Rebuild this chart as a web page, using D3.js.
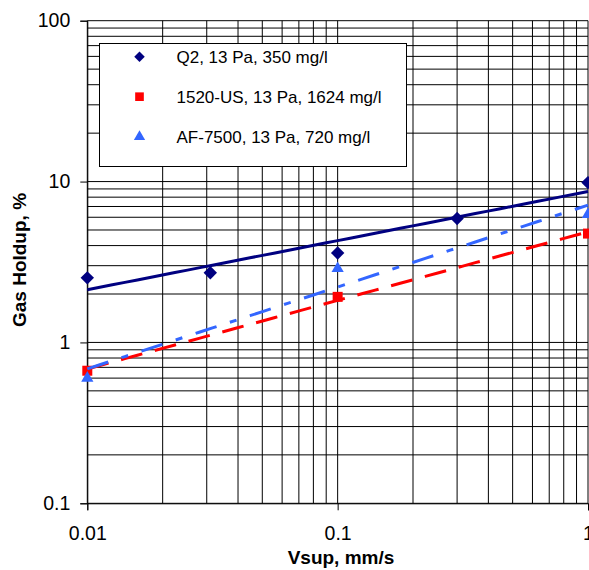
<!DOCTYPE html>
<html>
<head>
<meta charset="utf-8">
<script src="https://cdn.jsdelivr.net/npm/d3@7/dist/d3.min.js"></script>
<style>
  html, body { margin: 0; padding: 0; background: #fff; }
  svg { display: block; font-family: "Liberation Sans", Arial, sans-serif; }
</style>
</head>
<body>
<svg id="chart" width="589" height="570"></svg>
<script>
// ---- Data ----
const seriesNames = ["Q2, 13 Pa, 350 mg/l", "1520-US, 13 Pa, 1624 mg/l", "AF-7500, 13 Pa, 720 mg/l"];
const vsupQ2 = [0.01, 0.031, 0.1, 0.3, 1];
const holdupQ2 = [2.52, 2.71, 3.6, 5.9, 9.85];
const vsup1520 = [0.01, 0.1, 1];
const holdup1520 = [0.667, 1.92, 4.75];
const vsupAF = [0.01, 0.1, 1];
const holdupAF = [0.6, 2.88, 6.25];
const xTickValues = [0.01, 0.1, 1];
const xTickLabels = ["0.01", "0.1", "1"];
const yTickValues = [0.1, 1, 10, 100];
const yTickLabels = ["0.1", "1", "10", "100"];
const xTitle = "Vsup, mm/s";
const yTitle = "Gas Holdup, %";

// ---- Layout ----
const svg = d3.select("#chart");
const pLeft = 87.3, pRight = 588, pTop = 20.7, pBottom = 503.3;
const x = d3.scaleLog().domain([0.01, 1]).range([pLeft, pRight]);
const y = d3.scaleLog().domain([0.1, 100]).range([pBottom, pTop]);

const series = [
  { name: seriesNames[0], xs: vsupQ2, ys: holdupQ2, color: "#000080", symbol: "diamond", dash: null },
  { name: seriesNames[1], xs: vsup1520, ys: holdup1520, color: "#FF0000", symbol: "square", dash: "22,13" },
  { name: seriesNames[2], xs: vsupAF, ys: holdupAF, color: "#3366FF", symbol: "triangle", dash: "22,14,7,14" }
];

// ---- Gridlines (major + minor, both directions) ----
const grid = svg.append("g");
const xGridVals = [];
for (let d = 0.01; d < 0.5; d *= 10) for (let k = 1; k <= 9; k++) xGridVals.push(+(d * k).toPrecision(3));
xGridVals.push(1);
const yGridVals = [];
for (let d = 0.1; d < 50; d *= 10) for (let k = 1; k <= 9; k++) yGridVals.push(+(d * k).toPrecision(3));
yGridVals.push(100);

grid.selectAll("line.gx").data(xGridVals).enter().append("line")
  .attr("x1", d => x(d)).attr("x2", d => x(d))
  .attr("y1", pTop).attr("y2", pBottom)
  .attr("stroke", "#000").attr("stroke-width", 1);
grid.selectAll("line.gy").data(yGridVals).enter().append("line")
  .attr("x1", pLeft).attr("x2", pRight)
  .attr("y1", d => y(d)).attr("y2", d => y(d))
  .attr("stroke", "#000").attr("stroke-width", 1);

// ---- Axes ----
const yAxis = d3.axisLeft(y).tickValues(yTickValues)
  .tickFormat((d, i) => yTickLabels[i]).tickSize(7).tickPadding(10);
const yg = svg.append("g").attr("transform", `translate(${pLeft},0)`).call(yAxis);
yg.select(".domain").attr("stroke", "#000");
yg.selectAll("text").attr("font-size", 19.5).attr("fill", "#000")
  .attr("font-family", "'Liberation Sans', Arial, sans-serif");

const xAxis = d3.axisBottom(x).tickValues(xTickValues)
  .tickFormat((d, i) => xTickLabels[i]).tickSize(7).tickPadding(16);
const xg = svg.append("g").attr("transform", `translate(0,${pBottom})`).call(xAxis);
xg.select(".domain").attr("stroke", "#000");
xg.selectAll("text").attr("font-size", 19.5).attr("fill", "#000")
  .attr("font-family", "'Liberation Sans', Arial, sans-serif");

// ---- Power trendlines (least squares fit in log-log space) ----
function powerFit(xs, ys) {
  const lx = xs.map(Math.log10), ly = ys.map(Math.log10);
  const mx = d3.mean(lx), my = d3.mean(ly);
  const b = d3.sum(lx.map((v, i) => (v - mx) * (ly[i] - my))) / d3.sum(lx.map(v => (v - mx) ** 2));
  const a = my - b * mx;
  return v => Math.pow(10, a + b * Math.log10(v));
}

// ---- Markers ----
const symbolFor = {
  diamond: d3.symbol().type(d3.symbolSquare).size(90),
  square: d3.symbol().type(d3.symbolSquare).size(100),
  triangle: d3.symbol().type(d3.symbolTriangle).size(65)
};

series.forEach(s => {
  const g = svg.append("g");
  g.selectAll("path").data(s.xs.map((v, i) => [v, s.ys[i]])).enter().append("path")
    .attr("d", symbolFor[s.symbol]())
    .attr("transform", d => `translate(${x(d[0])},${y(d[1])})` + (s.symbol === "diamond" ? " rotate(45)" : ""))
    .attr("fill", s.color);
});

series.forEach(s => {
  const f = powerFit(s.xs, s.ys);
  const xs = d3.range(0, 41).map(i => Math.pow(10, -2 + i * 0.05));
  const pts = xs.map(v => [v, f(v)]);
  const line = d3.line().x(d => x(d[0])).y(d => y(d[1]));
  svg.append("path").datum(pts).attr("d", line)
    .attr("fill", "none").attr("stroke", s.color).attr("stroke-width", 3)
    .attr("stroke-dasharray", s.dash);
});

// ---- Legend ----
const lg = svg.append("g");
lg.append("rect").attr("x", 99.5).attr("y", 43.5).attr("width", 307).attr("height", 123)
  .attr("fill", "#fff").attr("stroke", "#000").attr("stroke-width", 1);
series.forEach((s, i) => {
  const cy = 56.7 + i * 40;
  lg.append("path").attr("d", d3.symbol().type(s.symbol === "triangle" ? d3.symbolTriangle : d3.symbolSquare)
      .size(s.symbol === "diamond" ? 55 : (s.symbol === "square" ? 75 : 55))())
    .attr("transform", `translate(139.5,${cy})` + (s.symbol === "diamond" ? " rotate(45)" : ""))
    .attr("fill", s.color);
  lg.append("text").attr("x", 176.5).attr("y", cy).attr("dy", "0.36em")
    .attr("font-size", 17).attr("fill", "#000").text(s.name);
});

// ---- Titles ----
svg.append("text").attr("x", 341).attr("y", 564).attr("text-anchor", "middle")
  .attr("font-size", 19).attr("font-weight", "bold").attr("fill", "#000").text(xTitle);
svg.append("text").attr("transform", "translate(26,260) rotate(-90)").attr("text-anchor", "middle")
  .attr("font-size", 19).attr("font-weight", "bold").attr("fill", "#000").text(yTitle);
</script>
</body>
</html>
